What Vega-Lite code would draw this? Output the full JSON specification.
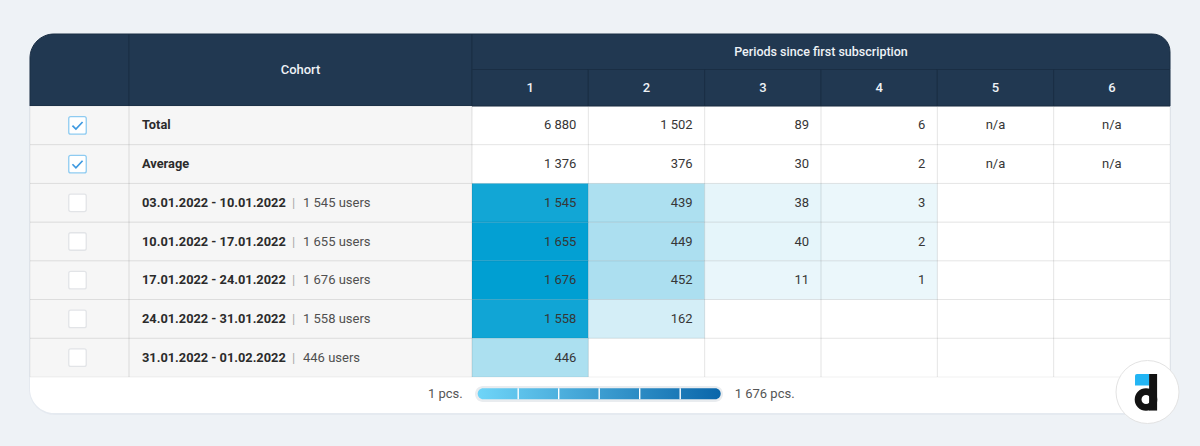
{
  "$schema": "https://vega.github.io/schema/vega-lite/v6.json",
  "width": 1200,
  "height": 446,
  "padding": 0,
  "autosize": {"type": "none"},
  "background": "#eef2f6",
  "config": {
    "view": {"stroke": null},
    "axis": {"disable": true},
    "legend": {"disable": true},
    "font": "Roboto",
    "locale": {"number": {"decimal": ".", "thousands": " ", "grouping": [3], "currency": ["", " users"]}}
  },
  "resolve": {"scale": {"x": "independent", "y": "independent", "color": "independent"}},
  "datasets": {
    "rows": [
      {"row": "Total", "kind": "summary", "checked": true},
      {"row": "Average", "kind": "summary", "checked": true},
      {"row": "03.01.2022 - 10.01.2022", "kind": "cohort", "checked": false, "users": 1545},
      {"row": "10.01.2022 - 17.01.2022", "kind": "cohort", "checked": false, "users": 1655},
      {"row": "17.01.2022 - 24.01.2022", "kind": "cohort", "checked": false, "users": 1676},
      {"row": "24.01.2022 - 31.01.2022", "kind": "cohort", "checked": false, "users": 1558},
      {"row": "31.01.2022 - 01.02.2022", "kind": "cohort", "checked": false, "users": 446}
    ],
    "cells": [
      {"row": "Total", "kind": "summary", "period": "1", "value": 6880},
      {"row": "Total", "kind": "summary", "period": "2", "value": 1502},
      {"row": "Total", "kind": "summary", "period": "3", "value": 89},
      {"row": "Total", "kind": "summary", "period": "4", "value": 6},
      {"row": "Total", "kind": "summary", "period": "5", "note": "n/a"},
      {"row": "Total", "kind": "summary", "period": "6", "note": "n/a"},
      {"row": "Average", "kind": "summary", "period": "1", "value": 1376},
      {"row": "Average", "kind": "summary", "period": "2", "value": 376},
      {"row": "Average", "kind": "summary", "period": "3", "value": 30},
      {"row": "Average", "kind": "summary", "period": "4", "value": 2},
      {"row": "Average", "kind": "summary", "period": "5", "note": "n/a"},
      {"row": "Average", "kind": "summary", "period": "6", "note": "n/a"},
      {"row": "03.01.2022 - 10.01.2022", "kind": "cohort", "period": "1", "value": 1545},
      {"row": "03.01.2022 - 10.01.2022", "kind": "cohort", "period": "2", "value": 439},
      {"row": "03.01.2022 - 10.01.2022", "kind": "cohort", "period": "3", "value": 38},
      {"row": "03.01.2022 - 10.01.2022", "kind": "cohort", "period": "4", "value": 3},
      {"row": "03.01.2022 - 10.01.2022", "kind": "cohort", "period": "5"},
      {"row": "03.01.2022 - 10.01.2022", "kind": "cohort", "period": "6"},
      {"row": "10.01.2022 - 17.01.2022", "kind": "cohort", "period": "1", "value": 1655},
      {"row": "10.01.2022 - 17.01.2022", "kind": "cohort", "period": "2", "value": 449},
      {"row": "10.01.2022 - 17.01.2022", "kind": "cohort", "period": "3", "value": 40},
      {"row": "10.01.2022 - 17.01.2022", "kind": "cohort", "period": "4", "value": 2},
      {"row": "10.01.2022 - 17.01.2022", "kind": "cohort", "period": "5"},
      {"row": "10.01.2022 - 17.01.2022", "kind": "cohort", "period": "6"},
      {"row": "17.01.2022 - 24.01.2022", "kind": "cohort", "period": "1", "value": 1676},
      {"row": "17.01.2022 - 24.01.2022", "kind": "cohort", "period": "2", "value": 452},
      {"row": "17.01.2022 - 24.01.2022", "kind": "cohort", "period": "3", "value": 11},
      {"row": "17.01.2022 - 24.01.2022", "kind": "cohort", "period": "4", "value": 1},
      {"row": "17.01.2022 - 24.01.2022", "kind": "cohort", "period": "5"},
      {"row": "17.01.2022 - 24.01.2022", "kind": "cohort", "period": "6"},
      {"row": "24.01.2022 - 31.01.2022", "kind": "cohort", "period": "1", "value": 1558},
      {"row": "24.01.2022 - 31.01.2022", "kind": "cohort", "period": "2", "value": 162},
      {"row": "24.01.2022 - 31.01.2022", "kind": "cohort", "period": "3"},
      {"row": "24.01.2022 - 31.01.2022", "kind": "cohort", "period": "4"},
      {"row": "24.01.2022 - 31.01.2022", "kind": "cohort", "period": "5"},
      {"row": "24.01.2022 - 31.01.2022", "kind": "cohort", "period": "6"},
      {"row": "31.01.2022 - 01.02.2022", "kind": "cohort", "period": "1", "value": 446},
      {"row": "31.01.2022 - 01.02.2022", "kind": "cohort", "period": "2"},
      {"row": "31.01.2022 - 01.02.2022", "kind": "cohort", "period": "3"},
      {"row": "31.01.2022 - 01.02.2022", "kind": "cohort", "period": "4"},
      {"row": "31.01.2022 - 01.02.2022", "kind": "cohort", "period": "5"},
      {"row": "31.01.2022 - 01.02.2022", "kind": "cohort", "period": "6"}
    ],
    "periods": [{"p": "1"}, {"p": "2"}, {"p": "3"}, {"p": "4"}, {"p": "5"}, {"p": "6"}],
    "one": [{"k": "a"}],
    "segments": [{"s": "2"}, {"s": "3"}, {"s": "4"}, {"s": "5"}, {"s": "6"}]
  },
  "layer": [
    {
      "data": {"name": "one"},
      "mark": {"type": "rect", "fill": "#dfe5ec", "cornerRadius": 26, "opacity": 0.6},
      "encoding": {
        "x": {"datum": "a", "type": "nominal", "scale": {"type": "band", "domain": ["a"], "range": [29, 1171], "paddingInner": 0, "paddingOuter": 0}},
        "y": {"datum": "a", "type": "nominal", "scale": {"type": "band", "domain": ["a"], "range": [35, 415], "paddingInner": 0, "paddingOuter": 0}}
      }
    },
    {
      "data": {"name": "one"},
      "mark": {"type": "rect", "fill": "#ffffff", "cornerRadius": 24},
      "encoding": {
        "x": {"datum": "a", "type": "nominal", "scale": {"type": "band", "domain": ["a"], "range": [30, 1170], "paddingInner": 0, "paddingOuter": 0}},
        "y": {"datum": "a", "type": "nominal", "scale": {"type": "band", "domain": ["a"], "range": [34, 413], "paddingInner": 0, "paddingOuter": 0}}
      }
    },
    {
      "data": {"name": "one"},
      "mark": {"type": "rect", "fill": "#213851", "stroke": "#1a2e44", "strokeWidth": 1, "cornerRadiusTopLeft": 24},
      "encoding": {
        "x": {"datum": "a", "type": "nominal", "scale": {"type": "band", "domain": ["a"], "range": [30, 129], "paddingInner": 0, "paddingOuter": 0}},
        "y": {"datum": "a", "type": "nominal", "scale": {"type": "band", "domain": ["a"], "range": [34, 106], "paddingInner": 0, "paddingOuter": 0}}
      }
    },
    {
      "data": {"name": "one"},
      "mark": {"type": "rect", "fill": "#213851", "stroke": "#1a2e44", "strokeWidth": 1},
      "encoding": {
        "x": {"datum": "a", "type": "nominal", "scale": {"type": "band", "domain": ["a"], "range": [129, 472], "paddingInner": 0, "paddingOuter": 0}},
        "y": {"datum": "a", "type": "nominal", "scale": {"type": "band", "domain": ["a"], "range": [34, 106], "paddingInner": 0, "paddingOuter": 0}}
      }
    },
    {
      "data": {"name": "one"},
      "mark": {"type": "rect", "fill": "#213851", "stroke": "#1a2e44", "strokeWidth": 1, "cornerRadiusTopRight": 24},
      "encoding": {
        "x": {"datum": "a", "type": "nominal", "scale": {"type": "band", "domain": ["a"], "range": [472, 1170], "paddingInner": 0, "paddingOuter": 0}},
        "y": {"datum": "a", "type": "nominal", "scale": {"type": "band", "domain": ["a"], "range": [34, 69.5], "paddingInner": 0, "paddingOuter": 0}}
      }
    },
    {
      "data": {"name": "periods"},
      "mark": {"type": "rect", "fill": "#213851", "stroke": "#1a2e44", "strokeWidth": 1},
      "encoding": {
        "x": {"field": "p", "type": "nominal", "scale": {"type": "band", "domain": ["1", "2", "3", "4", "5", "6"], "range": [472, 1170], "paddingInner": 0, "paddingOuter": 0}},
        "y": {"datum": "a", "type": "nominal", "scale": {"type": "band", "domain": ["a"], "range": [69.5, 106], "paddingInner": 0, "paddingOuter": 0}}
      }
    },
    {
      "data": {"values": [{"t": "Cohort"}]},
      "mark": {"type": "text", "font": "Roboto", "fontSize": 13, "fontWeight": 500, "color": "#eef2f6"},
      "encoding": {
        "text": {"field": "t", "type": "nominal"},
        "x": {"datum": "a", "type": "nominal", "scale": {"type": "band", "domain": ["a"], "range": [129, 472], "paddingInner": 0, "paddingOuter": 0}},
        "y": {"datum": "a", "type": "nominal", "scale": {"type": "band", "domain": ["a"], "range": [34, 106], "paddingInner": 0, "paddingOuter": 0}}
      }
    },
    {
      "data": {"values": [{"t": "Periods since first subscription"}]},
      "mark": {"type": "text", "font": "Roboto", "fontSize": 12.5, "fontWeight": 500, "color": "#eef2f6"},
      "encoding": {
        "text": {"field": "t", "type": "nominal"},
        "x": {"datum": "a", "type": "nominal", "scale": {"type": "band", "domain": ["a"], "range": [472, 1170], "paddingInner": 0, "paddingOuter": 0}},
        "y": {"datum": "a", "type": "nominal", "scale": {"type": "band", "domain": ["a"], "range": [34, 69.5], "paddingInner": 0, "paddingOuter": 0}}
      }
    },
    {
      "data": {"name": "periods"},
      "mark": {"type": "text", "font": "Roboto", "fontSize": 13, "fontWeight": 500, "color": "#eef2f6"},
      "encoding": {
        "text": {"field": "p", "type": "nominal"},
        "x": {"field": "p", "type": "nominal", "scale": {"type": "band", "domain": ["1", "2", "3", "4", "5", "6"], "range": [472, 1170], "paddingInner": 0, "paddingOuter": 0}},
        "y": {"datum": "a", "type": "nominal", "scale": {"type": "band", "domain": ["a"], "range": [69.5, 106], "paddingInner": 0, "paddingOuter": 0}}
      }
    },
    {
      "data": {"name": "one"},
      "mark": {"type": "rect", "fill": "#f6f6f6"},
      "encoding": {
        "x": {"datum": "a", "type": "nominal", "scale": {"type": "band", "domain": ["a"], "range": [30, 472], "paddingInner": 0, "paddingOuter": 0}},
        "y": {"datum": "a", "type": "nominal", "scale": {"type": "band", "domain": ["a"], "range": [106, 377], "paddingInner": 0, "paddingOuter": 0}}
      }
    },
    {
      "data": {"name": "cells"},
      "transform": [{"filter": "datum.kind == 'cohort' && isValid(datum.value)"}],
      "mark": {"type": "rect"},
      "encoding": {
        "x": {"field": "period", "type": "nominal", "scale": {"type": "band", "domain": ["1", "2", "3", "4", "5", "6"], "range": [472, 1170], "paddingInner": 0, "paddingOuter": 0}},
        "y": {"field": "row", "type": "nominal", "scale": {"type": "band", "domain": ["Total", "Average", "03.01.2022 - 10.01.2022", "10.01.2022 - 17.01.2022", "17.01.2022 - 24.01.2022", "24.01.2022 - 31.01.2022", "31.01.2022 - 01.02.2022"], "range": [106, 377], "paddingInner": 0, "paddingOuter": 0}},
        "color": {"field": "value", "type": "quantitative", "scale": {"domain": [0, 1676], "range": ["#ebf7fb", "#009fd2"], "interpolate": "rgb"}, "legend": null}
      }
    },
    {
      "data": {"name": "cells"},
      "mark": {"type": "rect", "filled": false, "stroke": "#000000", "strokeOpacity": 0.055, "strokeWidth": 1},
      "encoding": {
        "x": {"field": "period", "type": "nominal", "scale": {"type": "band", "domain": ["1", "2", "3", "4", "5", "6"], "range": [472, 1170], "paddingInner": 0, "paddingOuter": 0}},
        "y": {"field": "row", "type": "nominal", "scale": {"type": "band", "domain": ["Total", "Average", "03.01.2022 - 10.01.2022", "10.01.2022 - 17.01.2022", "17.01.2022 - 24.01.2022", "24.01.2022 - 31.01.2022", "31.01.2022 - 01.02.2022"], "range": [106, 377], "paddingInner": 0, "paddingOuter": 0}}
      }
    },
    {
      "data": {"name": "rows"},
      "mark": {"type": "rect", "filled": false, "stroke": "#000000", "strokeOpacity": 0.055, "strokeWidth": 1},
      "encoding": {
        "x": {"datum": "a", "type": "nominal", "scale": {"type": "band", "domain": ["a"], "range": [30, 129], "paddingInner": 0, "paddingOuter": 0}},
        "y": {"field": "row", "type": "nominal", "scale": {"type": "band", "domain": ["Total", "Average", "03.01.2022 - 10.01.2022", "10.01.2022 - 17.01.2022", "17.01.2022 - 24.01.2022", "24.01.2022 - 31.01.2022", "31.01.2022 - 01.02.2022"], "range": [106, 377], "paddingInner": 0, "paddingOuter": 0}}
      }
    },
    {
      "data": {"name": "rows"},
      "mark": {"type": "rect", "filled": false, "stroke": "#000000", "strokeOpacity": 0.055, "strokeWidth": 1},
      "encoding": {
        "x": {"datum": "a", "type": "nominal", "scale": {"type": "band", "domain": ["a"], "range": [129, 472], "paddingInner": 0, "paddingOuter": 0}},
        "y": {"field": "row", "type": "nominal", "scale": {"type": "band", "domain": ["Total", "Average", "03.01.2022 - 10.01.2022", "10.01.2022 - 17.01.2022", "17.01.2022 - 24.01.2022", "24.01.2022 - 31.01.2022", "31.01.2022 - 01.02.2022"], "range": [106, 377], "paddingInner": 0, "paddingOuter": 0}}
      }
    },
    {
      "data": {"name": "rows"},
      "mark": {"type": "point", "shape": "M -0.78 -1 L 0.78 -1 Q 1 -1 1 -0.78 L 1 0.78 Q 1 1 0.78 1 L -0.78 1 Q -1 1 -1 0.78 L -1 -0.78 Q -1 -1 -0.78 -1 Z", "size": 306, "filled": true, "fill": "#ffffff", "strokeWidth": 1.3, "opacity": 1},
      "encoding": {
        "x": {"datum": "a", "type": "nominal", "scale": {"type": "band", "domain": ["a"], "range": [26, 129], "paddingInner": 0, "paddingOuter": 0}},
        "y": {"field": "row", "type": "nominal", "scale": {"type": "band", "domain": ["Total", "Average", "03.01.2022 - 10.01.2022", "10.01.2022 - 17.01.2022", "17.01.2022 - 24.01.2022", "24.01.2022 - 31.01.2022", "31.01.2022 - 01.02.2022"], "range": [106, 377], "paddingInner": 0, "paddingOuter": 0}},
        "stroke": {"condition": {"test": "datum.checked", "value": "#8ecbf1"}, "value": "#e2e4e7"}
      }
    },
    {
      "data": {"name": "rows"},
      "transform": [{"filter": "datum.checked"}],
      "mark": {"type": "point", "shape": "M -0.58 0.02 L -0.18 0.42 L 0.58 -0.38", "size": 306, "filled": false, "stroke": "#3e99e0", "strokeWidth": 1.7, "opacity": 1},
      "encoding": {
        "x": {"datum": "a", "type": "nominal", "scale": {"type": "band", "domain": ["a"], "range": [26, 129], "paddingInner": 0, "paddingOuter": 0}},
        "y": {"field": "row", "type": "nominal", "scale": {"type": "band", "domain": ["Total", "Average", "03.01.2022 - 10.01.2022", "10.01.2022 - 17.01.2022", "17.01.2022 - 24.01.2022", "24.01.2022 - 31.01.2022", "31.01.2022 - 01.02.2022"], "range": [106, 377], "paddingInner": 0, "paddingOuter": 0}}
      }
    },
    {
      "data": {"name": "rows"},
      "mark": {"type": "text", "font": "Roboto", "fontSize": 12.8, "fontWeight": "bold", "color": "#2b2b2b", "align": "left", "dx": 13},
      "encoding": {
        "text": {"field": "row", "type": "nominal"},
        "x": {"datum": "a", "type": "nominal", "bandPosition": 0, "scale": {"type": "band", "domain": ["a"], "range": [129, 472], "paddingInner": 0, "paddingOuter": 0}},
        "y": {"field": "row", "type": "nominal", "scale": {"type": "band", "domain": ["Total", "Average", "03.01.2022 - 10.01.2022", "10.01.2022 - 17.01.2022", "17.01.2022 - 24.01.2022", "24.01.2022 - 31.01.2022", "31.01.2022 - 01.02.2022"], "range": [106, 377], "paddingInner": 0, "paddingOuter": 0}}
      }
    },
    {
      "data": {"name": "rows"},
      "transform": [{"filter": "datum.kind == 'cohort'"}],
      "mark": {"type": "text", "font": "Roboto", "fontSize": 13, "color": "#a9a9a9", "align": "left", "dx": 163},
      "encoding": {
        "text": {"value": "|"},
        "x": {"datum": "a", "type": "nominal", "bandPosition": 0, "scale": {"type": "band", "domain": ["a"], "range": [129, 472], "paddingInner": 0, "paddingOuter": 0}},
        "y": {"field": "row", "type": "nominal", "scale": {"type": "band", "domain": ["Total", "Average", "03.01.2022 - 10.01.2022", "10.01.2022 - 17.01.2022", "17.01.2022 - 24.01.2022", "24.01.2022 - 31.01.2022", "31.01.2022 - 01.02.2022"], "range": [106, 377], "paddingInner": 0, "paddingOuter": 0}}
      }
    },
    {
      "data": {"name": "rows"},
      "transform": [{"filter": "datum.kind == 'cohort'"}],
      "mark": {"type": "text", "font": "Roboto", "fontSize": 13, "color": "#505050", "align": "left", "dx": 174},
      "encoding": {
        "text": {"field": "users", "type": "quantitative", "format": "$,d"},
        "x": {"datum": "a", "type": "nominal", "bandPosition": 0, "scale": {"type": "band", "domain": ["a"], "range": [129, 472], "paddingInner": 0, "paddingOuter": 0}},
        "y": {"field": "row", "type": "nominal", "scale": {"type": "band", "domain": ["Total", "Average", "03.01.2022 - 10.01.2022", "10.01.2022 - 17.01.2022", "17.01.2022 - 24.01.2022", "24.01.2022 - 31.01.2022", "31.01.2022 - 01.02.2022"], "range": [106, 377], "paddingInner": 0, "paddingOuter": 0}}
      }
    },
    {
      "data": {"name": "cells"},
      "transform": [{"filter": "isValid(datum.value)"}],
      "mark": {"type": "text", "font": "Roboto", "fontSize": 13, "color": "#363636", "align": "right", "dx": -12},
      "encoding": {
        "text": {"field": "value", "type": "quantitative", "format": ",d"},
        "x": {"field": "period", "type": "nominal", "bandPosition": 1, "scale": {"type": "band", "domain": ["1", "2", "3", "4", "5", "6"], "range": [472, 1170], "paddingInner": 0, "paddingOuter": 0}},
        "y": {"field": "row", "type": "nominal", "scale": {"type": "band", "domain": ["Total", "Average", "03.01.2022 - 10.01.2022", "10.01.2022 - 17.01.2022", "17.01.2022 - 24.01.2022", "24.01.2022 - 31.01.2022", "31.01.2022 - 01.02.2022"], "range": [106, 377], "paddingInner": 0, "paddingOuter": 0}}
      }
    },
    {
      "data": {"name": "cells"},
      "transform": [{"filter": "datum.note == 'n/a'"}],
      "mark": {"type": "text", "font": "Roboto", "fontSize": 13, "color": "#363636", "align": "center"},
      "encoding": {
        "text": {"field": "note", "type": "nominal"},
        "x": {"field": "period", "type": "nominal", "scale": {"type": "band", "domain": ["1", "2", "3", "4", "5", "6"], "range": [472, 1170], "paddingInner": 0, "paddingOuter": 0}},
        "y": {"field": "row", "type": "nominal", "scale": {"type": "band", "domain": ["Total", "Average", "03.01.2022 - 10.01.2022", "10.01.2022 - 17.01.2022", "17.01.2022 - 24.01.2022", "24.01.2022 - 31.01.2022", "31.01.2022 - 01.02.2022"], "range": [106, 377], "paddingInner": 0, "paddingOuter": 0}}
      }
    },
    {
      "data": {"name": "one"},
      "mark": {"type": "rect", "fill": "#e9ecef", "cornerRadius": 8},
      "encoding": {
        "x": {"datum": "a", "type": "nominal", "scale": {"type": "band", "domain": ["a"], "range": [475, 723], "paddingInner": 0, "paddingOuter": 0}},
        "y": {"datum": "a", "type": "nominal", "scale": {"type": "band", "domain": ["a"], "range": [386, 402], "paddingInner": 0, "paddingOuter": 0}}
      }
    },
    {
      "data": {"name": "one"},
      "mark": {"type": "rect", "cornerRadius": 5.5, "fill": {"gradient": "linear", "x1": 0, "y1": 0, "x2": 1, "y2": 0, "stops": [{"offset": 0, "color": "#6fd5f8"}, {"offset": 1, "color": "#0a66aa"}]}},
      "encoding": {
        "x": {"datum": "a", "type": "nominal", "scale": {"type": "band", "domain": ["a"], "range": [477.7, 720.7], "paddingInner": 0, "paddingOuter": 0}},
        "y": {"datum": "a", "type": "nominal", "scale": {"type": "band", "domain": ["a"], "range": [388.3, 399.3], "paddingInner": 0, "paddingOuter": 0}}
      }
    },
    {
      "data": {"name": "segments"},
      "mark": {"type": "tick", "orient": "vertical", "size": 11, "thickness": 1.4, "color": "#ffffff", "opacity": 1},
      "encoding": {
        "x": {"field": "s", "type": "nominal", "bandPosition": 0, "scale": {"type": "band", "domain": ["1", "2", "3", "4", "5", "6"], "range": [477.7, 720.7], "paddingInner": 0, "paddingOuter": 0}},
        "y": {"datum": "a", "type": "nominal", "scale": {"type": "band", "domain": ["a"], "range": [388.3, 399.3], "paddingInner": 0, "paddingOuter": 0}}
      }
    },
    {
      "data": {"values": [{"t": "1 pcs."}]},
      "mark": {"type": "text", "font": "Roboto", "fontSize": 13, "color": "#555555", "align": "right", "dx": -15},
      "encoding": {
        "text": {"field": "t", "type": "nominal"},
        "x": {"datum": "a", "type": "nominal", "bandPosition": 0, "scale": {"type": "band", "domain": ["a"], "range": [477.7, 720.7], "paddingInner": 0, "paddingOuter": 0}},
        "y": {"datum": "a", "type": "nominal", "scale": {"type": "band", "domain": ["a"], "range": [388.3, 399.3], "paddingInner": 0, "paddingOuter": 0}}
      }
    },
    {
      "data": {"values": [{"t": "1 676 pcs."}]},
      "mark": {"type": "text", "font": "Roboto", "fontSize": 13, "color": "#555555", "align": "left", "dx": 14},
      "encoding": {
        "text": {"field": "t", "type": "nominal"},
        "x": {"datum": "a", "type": "nominal", "bandPosition": 1, "scale": {"type": "band", "domain": ["a"], "range": [477.7, 720.7], "paddingInner": 0, "paddingOuter": 0}},
        "y": {"datum": "a", "type": "nominal", "scale": {"type": "band", "domain": ["a"], "range": [388.3, 399.3], "paddingInner": 0, "paddingOuter": 0}}
      }
    },
    {
      "data": {"name": "one"},
      "mark": {"type": "point", "shape": "circle", "size": 3969, "filled": true, "fill": "#ffffff", "stroke": "#e3e3e3", "strokeWidth": 1, "opacity": 1},
      "encoding": {
        "x": {"datum": "a", "type": "nominal", "scale": {"type": "band", "domain": ["a"], "range": [1115, 1180], "paddingInner": 0, "paddingOuter": 0}},
        "y": {"datum": "a", "type": "nominal", "scale": {"type": "band", "domain": ["a"], "range": [360, 424], "paddingInner": 0, "paddingOuter": 0}}
      }
    },
    {
      "data": {"name": "one"},
      "mark": {"type": "point", "shape": "M -0.39 -0.5 Q -0.39 -0.5625 -0.33 -0.5625 L 0.05 -0.5625 L 0.05 -0.2 L -0.39 -0.2 Z", "size": 4096, "filled": true, "fill": "#22b5f4", "opacity": 1},
      "encoding": {
        "x": {"datum": "a", "type": "nominal", "scale": {"type": "band", "domain": ["a"], "range": [1115, 1180], "paddingInner": 0, "paddingOuter": 0}},
        "y": {"datum": "a", "type": "nominal", "scale": {"type": "band", "domain": ["a"], "range": [360, 424], "paddingInner": 0, "paddingOuter": 0}}
      }
    },
    {
      "data": {"name": "one"},
      "mark": {"type": "point", "shape": "M 0.05 -0.5625 L 0.3 -0.5625 L 0.3 0.58 L 0.05 0.58 Z", "size": 4096, "filled": true, "fill": "#121212", "opacity": 1},
      "encoding": {
        "x": {"datum": "a", "type": "nominal", "scale": {"type": "band", "domain": ["a"], "range": [1115, 1180], "paddingInner": 0, "paddingOuter": 0}},
        "y": {"datum": "a", "type": "nominal", "scale": {"type": "band", "domain": ["a"], "range": [360, 424], "paddingInner": 0, "paddingOuter": 0}}
      }
    },
    {
      "data": {"name": "one"},
      "mark": {"type": "point", "shape": "circle", "size": 250, "filled": false, "stroke": "#121212", "strokeWidth": 6.8, "opacity": 1},
      "encoding": {
        "x": {"datum": "a", "type": "nominal", "scale": {"type": "band", "domain": ["a"], "range": [1135, 1157], "paddingInner": 0, "paddingOuter": 0}},
        "y": {"datum": "a", "type": "nominal", "scale": {"type": "band", "domain": ["a"], "range": [388.5, 410.5], "paddingInner": 0, "paddingOuter": 0}}
      }
    }
  ]
}
